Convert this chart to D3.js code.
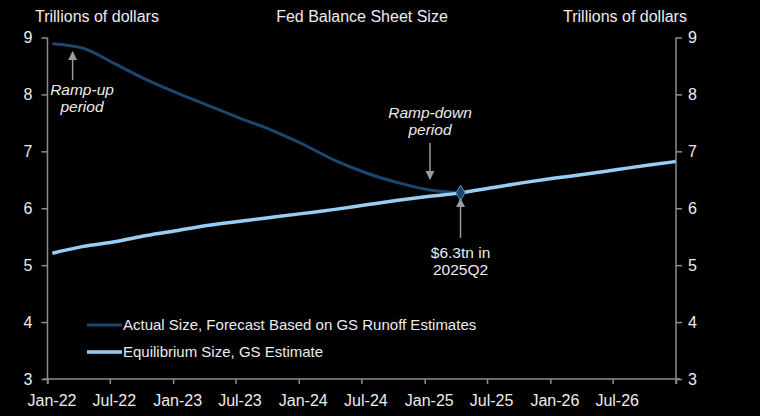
<!DOCTYPE html>
<html>
<head>
<meta charset="utf-8">
<script src="https://cdn.jsdelivr.net/npm/d3@7"></script>
<style>
  body { margin: 0; background: #000; }
  svg text { font-family: "Liberation Sans", Arial, sans-serif; fill: #ececec; }
</style>
</head>
<body>
<svg id="chart" width="760" height="416"></svg>
<script>
// quarterly readings, trillions of dollars
const actualDates = ['2022-01-15', '2022-04-15', '2022-07-15', '2022-10-15', '2023-01-15', '2023-04-15',
  '2023-07-15', '2023-10-15', '2024-01-15', '2024-04-15', '2024-07-15', '2024-10-15', '2025-01-15', '2025-04-15'];
const actualSize = [8.89, 8.81, 8.54, 8.26, 8.02, 7.80, 7.58, 7.37, 7.12, 6.84, 6.62, 6.45, 6.32, 6.27];

const equilDates = ['2022-01-15', '2022-04-15', '2022-07-15', '2022-10-15', '2023-01-15', '2023-04-15',
  '2023-07-15', '2023-10-15', '2024-01-15', '2024-04-15', '2024-07-15', '2024-10-15', '2025-01-15',
  '2025-04-15', '2025-07-15', '2025-10-15', '2026-01-15', '2026-04-15', '2026-07-15', '2026-10-15', '2026-12-31'];
const equilSize = [5.21, 5.33, 5.41, 5.52, 5.61, 5.70, 5.77, 5.84, 5.91, 5.98, 6.06, 6.14, 6.21,
  6.27, 6.36, 6.45, 6.53, 6.60, 6.68, 6.76, 6.82];

const xTickDates = ['2022-01-01', '2022-07-01', '2023-01-01', '2023-07-01', '2024-01-01', '2024-07-01',
  '2025-01-01', '2025-07-01', '2026-01-01', '2026-07-01', '2027-01-01'];
const xTickLabels = ['Jan-22', 'Jul-22', 'Jan-23', 'Jul-23', 'Jan-24', 'Jul-24', 'Jan-25', 'Jul-25', 'Jan-26', 'Jul-26', ''];
const yTicks = [3, 4, 5, 6, 7, 8, 9];

const markerDate = '2025-04-15';
const markerValue = 6.27;

const parse = d3.timeParse('%Y-%m-%d');
const svg = d3.select('#chart');
const plotLeft = 47.5, plotRight = 676, plotTop = 37.5, plotBottom = 379;

const x = d3.scaleTime().domain([parse('2022-01-01'), parse('2027-01-01')]).range([plotLeft, plotRight]);
const y = d3.scaleLinear().domain([3, 9]).range([plotBottom, plotTop]);

const axisColor = '#8c8c8c';
function styleAxis(g) {
  g.selectAll('path, line').attr('stroke', axisColor).attr('stroke-width', 1.5);
  g.selectAll('text').attr('font-size', 16).style('fill', '#ececec');
}

// axes
const xAxis = d3.axisBottom(x)
  .tickValues(xTickDates.map(parse))
  .tickFormat((d, i) => xTickLabels[i])
  .tickSizeOuter(0).tickSize(5).tickPadding(11);
svg.append('g').attr('transform', `translate(0,${plotBottom})`).call(xAxis)
  .call(styleAxis)
  .call(g => g.select('.domain').attr('d', `M${plotLeft - 4},0H${plotRight + 4}`))
  .call(g => g.selectAll('text').attr('dx', 4));

svg.append('g').attr('transform', `translate(${plotLeft},0)`)
  .call(d3.axisLeft(y).tickValues(yTicks).tickFormat(d3.format('d')).tickSizeOuter(0).tickSize(6).tickPadding(9))
  .call(styleAxis)
  .call(g => g.select('.domain').attr('d', `M0,${plotTop}V${plotBottom + 5}`));

svg.append('g').attr('transform', `translate(${plotRight},0)`)
  .call(d3.axisRight(y).tickValues(yTicks).tickFormat(d3.format('d')).tickSizeOuter(0).tickSize(6).tickPadding(6))
  .call(styleAxis)
  .call(g => g.select('.domain').attr('d', `M0,${plotTop}V${plotBottom + 5}`));

// header texts
svg.append('text').attr('x', 35).attr('y', 22).attr('font-size', 16).text('Trillions  of dollars');
svg.append('text').attr('x', 362).attr('y', 22).attr('font-size', 16).attr('text-anchor', 'middle').text('Fed Balance Sheet Size');
svg.append('text').attr('x', 625).attr('y', 22).attr('font-size', 16).attr('text-anchor', 'middle').text('Trillions  of dollars');

// lines
const line = d3.line().x(d => x(d[0])).y(d => y(d[1])).curve(d3.curveMonotoneX);
const actualData = actualDates.map((d, i) => [parse(d), actualSize[i]]);
const equilData = equilDates.map((d, i) => [parse(d), equilSize[i]]);

const darkBlue = '#1a4670', lightBlue = '#99cdf3';

svg.append('path').datum(actualData).attr('d', line)
  .attr('fill', 'none').attr('stroke', darkBlue).attr('stroke-width', 3);
svg.append('path').datum(equilData).attr('d', line)
  .attr('fill', 'none').attr('stroke', lightBlue).attr('stroke-width', 3.5);

// diamond marker
svg.append('path')
  .attr('d', d3.symbol(d3.symbolDiamond, 70)())
  .attr('transform', `translate(${x(parse(markerDate))},${y(markerValue)})`)
  .attr('fill', darkBlue).attr('stroke', '#4f86b8').attr('stroke-width', 1);

// arrows
const defs = svg.append('defs');
defs.append('marker').attr('id', 'head').attr('viewBox', '0 0 10 10')
  .attr('refX', 9).attr('refY', 5).attr('markerWidth', 9).attr('markerHeight', 9)
  .attr('markerUnits', 'userSpaceOnUse').attr('orient', 'auto')
  .append('path').attr('d', 'M0,0L10,5L0,10Z').attr('fill', '#9a9a9a');

function arrow(x0, y0, x1, y1) {
  svg.append('line').attr('x1', x0).attr('y1', y0).attr('x2', x1).attr('y2', y1)
    .attr('stroke', '#9a9a9a').attr('stroke-width', 1.5).attr('marker-end', 'url(#head)');
}
function note(cx, cy, lines, italic) {
  const t = svg.append('text').attr('text-anchor', 'middle').attr('font-size', 15.5)
    .attr('font-style', italic ? 'italic' : 'normal');
  lines.forEach((s, i) => t.append('tspan').attr('x', cx).attr('y', cy + i * 17).text(s));
}

const rampUpX = x(parse('2022-03-15'));
arrow(rampUpX, 80, rampUpX, 52);
note(82, 95, ['Ramp-up', 'period'], true);

const rampDownX = 430;
arrow(rampDownX, 143, rampDownX, 179);
note(430, 118, ['Ramp-down', 'period'], true);

const mx = x(parse(markerDate));
arrow(mx, 238, mx, 199);
note(mx, 258, ['$6.3tn in', '2025Q2'], false);

// legend
const legend = [
  { label: 'Actual Size, Forecast Based on GS Runoff Estimates', color: darkBlue, w: 3, yy: 325 },
  { label: 'Equilibrium Size, GS Estimate', color: lightBlue, w: 3.5, yy: 352 }
];
legend.forEach(l => {
  svg.append('line').attr('x1', 87).attr('x2', 122).attr('y1', l.yy).attr('y2', l.yy)
    .attr('stroke', l.color).attr('stroke-width', l.w);
  svg.append('text').attr('x', 123).attr('y', l.yy + 5).attr('font-size', 15).text(l.label);
});
</script>
</body>
</html>
